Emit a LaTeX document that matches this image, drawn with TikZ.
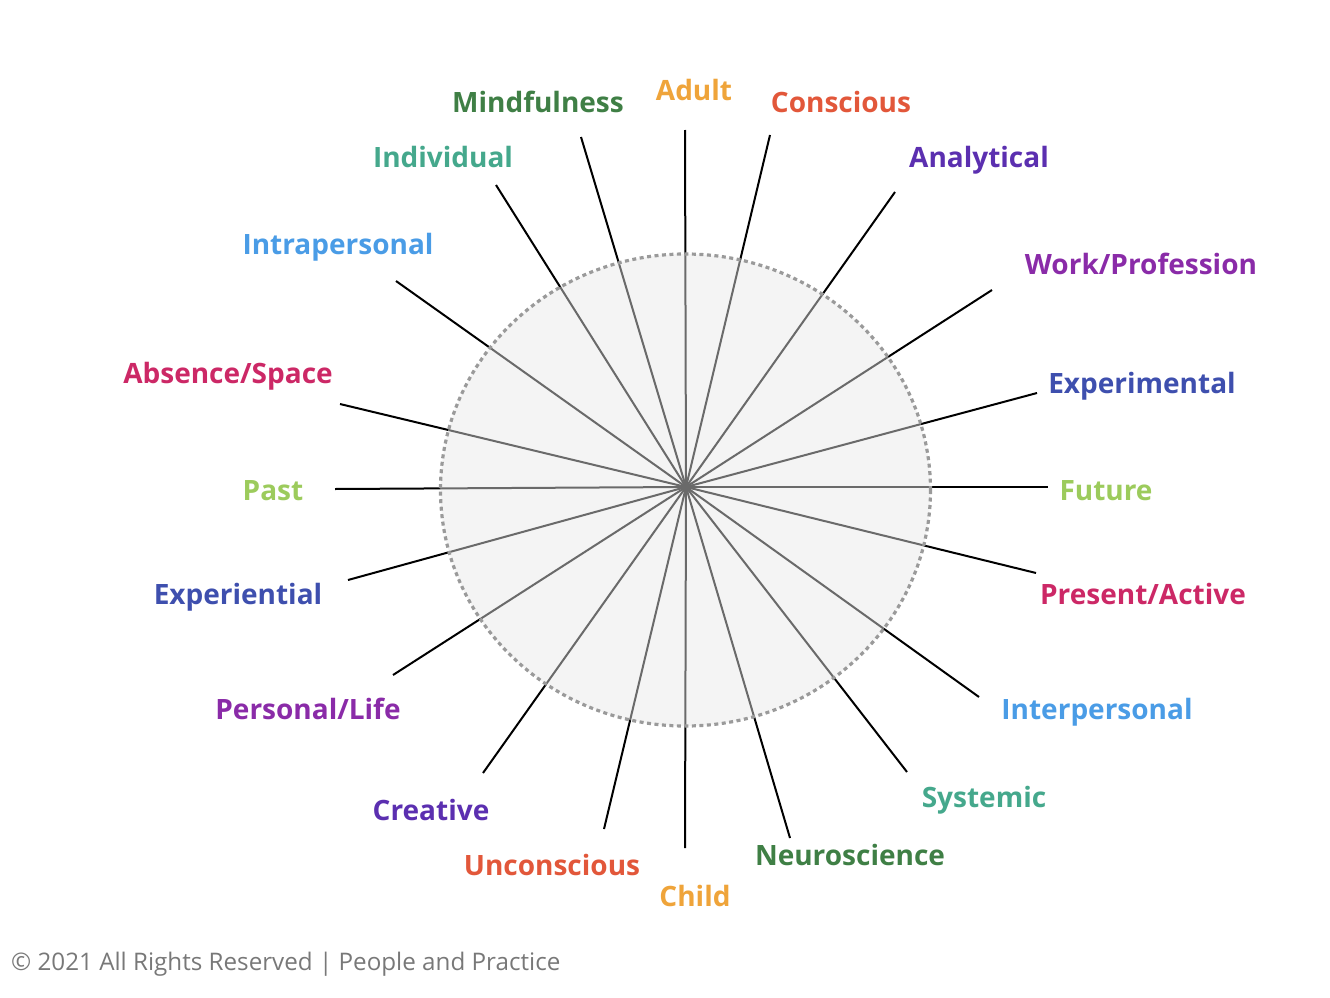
\documentclass[tikz,border=0pt]{standalone}
\usepackage{fontspec}
\setmainfont{Open Sans}
\definecolor{cOrange}{HTML}{EFA43A}
\definecolor{cRed}{HTML}{E2573A}
\definecolor{cGreen}{HTML}{3F7F45}
\definecolor{cTeal}{HTML}{45A88C}
\definecolor{cViolet}{HTML}{5B2FB0}
\definecolor{cBlue}{HTML}{4A9CE6}
\definecolor{cPurple}{HTML}{8A2BA8}
\definecolor{cCrimson}{HTML}{CC2866}
\definecolor{cIndigo}{HTML}{3E4FAE}
\definecolor{cLime}{HTML}{9CCB5C}
\definecolor{fillgray}{HTML}{F4F4F4}
\definecolor{spokegray}{HTML}{6A6A6A}
\definecolor{dotgray}{HTML}{9A9A9A}
\tikzset{
  lbl/.style={font=\fontsize{28}{32}\selectfont\bfseries, anchor=center, inner sep=0pt, text height=20pt, text depth=0pt},
  spoke/.style={black, line width=2pt},
  innerspoke/.style={spokegray, line width=2pt},
  rim/.style={dotgray, line width=3.2pt, dash pattern=on 4pt off 3.5pt}
}
\begin{document}
\begin{tikzpicture}[x=1pt,y=-1pt]
\useasboundingbox (0,0) rectangle (1330,998);
\coordinate (c) at (686,487);
\coordinate (ec) at (685.5,490);
% outer endpoints
\coordinate (eAdult) at (685,130);
\coordinate (eConscious) at (770,135);
\coordinate (eAnalytical) at (895,192);
\coordinate (eWork) at (992,290);
\coordinate (eExperimental) at (1037,393);
\coordinate (eFuture) at (1048,487);
\coordinate (ePresent) at (1036,573);
\coordinate (eInterpersonal) at (979,697);
\coordinate (eSystemic) at (907,772);
\coordinate (eNeuro) at (790,838);
\coordinate (eChild) at (685,848);
\coordinate (eUnconscious) at (604,829);
\coordinate (eCreative) at (483,773);
\coordinate (ePersonal) at (393,675);
\coordinate (eExperiential) at (348,580);
\coordinate (ePast) at (335,489);
\coordinate (eAbsence) at (340,404);
\coordinate (eIntra) at (396,281);
\coordinate (eIndividual) at (496,185);
\coordinate (eMindfulness) at (581,137);

\foreach \e in {eAdult,eConscious,eAnalytical,eWork,eExperimental,eFuture,ePresent,eInterpersonal,eSystemic,eNeuro,eChild,eUnconscious,eCreative,ePersonal,eExperiential,ePast,eAbsence,eIntra,eIndividual,eMindfulness}
  \draw[spoke] (c) -- (\e);

\fill[fillgray] (ec) ellipse [x radius=245, y radius=236];
\begin{scope}
  \clip (ec) ellipse [x radius=245, y radius=236];
  \foreach \e in {eAdult,eConscious,eAnalytical,eWork,eExperimental,eFuture,ePresent,eInterpersonal,eSystemic,eNeuro,eChild,eUnconscious,eCreative,ePersonal,eExperiential,ePast,eAbsence,eIntra,eIndividual,eMindfulness}
    \draw[innerspoke] (c) -- (\e);
\end{scope}
\draw[rim] (ec) ellipse [x radius=245, y radius=236];

% labels
\node[lbl, text=cOrange] (lAdult) at (694,90) {Adult};
\node[lbl, text=cRed] (lConscious) at (841,102) {Conscious};
\node[lbl, text=cGreen] (lMindfulness) at (538,102) {Mindfulness};
\node[lbl, text=cTeal] (lIndividual) at (443,157) {Individual};
\node[lbl, text=cViolet] (lAnalytical) at (979,157) {Analytical};
\node[lbl, text=cBlue] (lIntra) at (338,244) {Intrapersonal};
\node[lbl, text=cPurple] (lWork) at (1141,264) {Work/Profession};
\node[lbl, text=cCrimson] (lAbsence) at (228,373) {Absence/Space};
\node[lbl, text=cIndigo] (lExperimental) at (1142,383) {Experimental};
\node[lbl, text=cLime] (lPast) at (273,490) {Past};
\node[lbl, text=cLime] (lFuture) at (1106,490) {Future};
\node[lbl, text=cIndigo] (lExperiential) at (238,594) {Experiential};
\node[lbl, text=cCrimson] (lPresent) at (1143,594) {Present/Active};
\node[lbl, text=cPurple] (lPersonal) at (308,709) {Personal/Life};
\node[lbl, text=cBlue] (lInter) at (1097,709) {Interpersonal};
\node[lbl, text=cViolet] (lCreative) at (431,810) {Creative};
\node[lbl, text=cTeal] (lSystemic) at (984,797) {Systemic};
\node[lbl, text=cRed] (lUnconscious) at (552,865) {Unconscious};
\node[lbl, text=cGreen] (lNeuro) at (850,855) {Neuroscience};
\node[lbl, text=cOrange] (lChild) at (695,896) {Child};

\node[anchor=west, inner sep=0pt, text={rgb,255:red,120;green,120;blue,120}, font=\fontsize{24.2}{28}\selectfont] (copy) at (11,964) {\textcopyright{} 2021 All Rights Reserved | People and Practice};
\end{tikzpicture}
\end{document}
